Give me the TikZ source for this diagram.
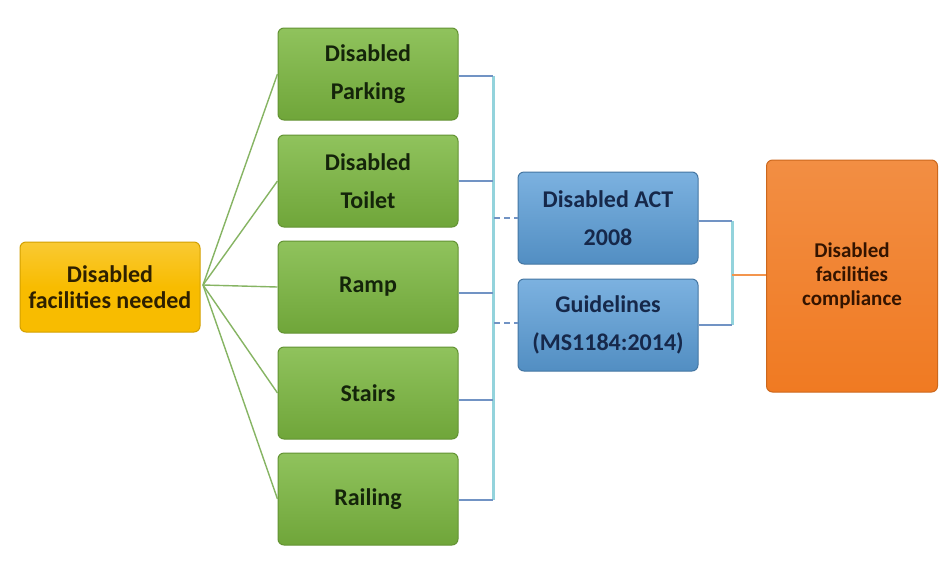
\documentclass[tikz,border=0pt]{standalone}
\usepackage{fontspec}
\setmainfont{Carlito}
\begin{document}
\begin{tikzpicture}[x=1pt,y=-1pt,
  box/.style={rounded corners=6pt, line width=1pt, align=center,
    font=\bfseries\fontsize{24}{26}\selectfont, inner sep=2pt},
  twoline/.style={font=\bfseries\fontsize{24}{38}\selectfont},
  goldbox/.style={box, draw=gold!85!black, top color=gold!80!white, bottom color=gold,
    middle color=gold, minimum width=180pt, minimum height=90pt, text=goldtext},
  greenbox/.style={box, draw=leaf!80!black, top color=leaf!85!white, bottom color=leaf!90!black,
    minimum width=180pt, minimum height=92pt, text=leaftext},
  bluebox/.style={box, draw=sky!75!black, top color=sky!80!white, bottom color=sky!90!black,
    minimum width=180pt, minimum height=92pt, text=skytext},
  orangebox/.style={box, draw=tang!85!black, top color=tang!85!white, bottom color=tang,
    minimum width=171pt, minimum height=232pt, text=tangtext},
  spoke/.style={draw=spokegreen, line width=1.4pt},
  tick/.style={draw=steel, line width=1.8pt},
  rail/.style={draw=aqua, line width=3pt},
  dashtick/.style={draw=steel, line width=1.8pt, dash pattern=on 6pt off 4pt},
  outlink/.style={draw=tang!80!white, line width=1.8pt}
]
\definecolor{gold}{HTML}{F8BC00}
\definecolor{goldtext}{HTML}{2E2000}
\definecolor{leaf}{HTML}{7CB840}
\definecolor{leaftext}{HTML}{14240A}
\definecolor{sky}{HTML}{5B9ED8}
\definecolor{skytext}{HTML}{16284A}
\definecolor{tang}{HTML}{F07A22}
\definecolor{tangtext}{HTML}{341400}
\definecolor{spokegreen}{HTML}{86B463}
\definecolor{steel}{HTML}{7193C4}
\definecolor{aqua}{HTML}{93D3DC}

\useasboundingbox[fill=white] (0,0) rectangle (941,563);

% source and facility boxes
\node[goldbox] (need) at (110,287) {Disabled\\facilities needed};
\node[greenbox, twoline] (park) at (368,74) {Disabled\\Parking};
\node[greenbox, twoline] (toil) at (368,181) {Disabled\\Toilet};
\node[greenbox] (ramp) at (368,287) {Ramp};
\node[greenbox] (stair) at (368,393) {Stairs};
\node[greenbox] (rail) at (368,499) {Railing};

% legislation boxes
\node[bluebox, twoline] (act) at (608,218) {Disabled ACT\\2008};
\node[bluebox, twoline] (guide) at (608,325) {Guidelines\\(MS1184:2014)};

% outcome box
\node[orangebox, font=\bfseries\fontsize{21}{24}\selectfont] (comp) at (852,276) {Disabled\\facilities\\compliance};

% fan of spokes from the source box
\coordinate (hub) at (203,285);
\foreach \t in {park,toil,ramp,stair,rail}
  \draw[spoke] (hub) -- (\t.west);

% left bracket collecting the facilities
\coordinate (lb1) at (493,76);
\coordinate (lb2) at (493,181);
\coordinate (lb3) at (493,293);
\coordinate (lb4) at (493,400);
\coordinate (lb5) at (493,500);
\draw[rail] (lb1) -- (lb5);
\draw[tick] (park.east |- lb1) -- (lb1);
\draw[tick] (toil.east |- lb2) -- (lb2);
\draw[tick] (ramp.east |- lb3) -- (lb3);
\draw[tick] (stair.east |- lb4) -- (lb4);
\draw[tick] (rail.east |- lb5) -- (lb5);
\coordinate (la) at (494,218);
\coordinate (lg) at (494,323);
\draw[dashtick] (la) -- (act.west);
\draw[dashtick] (lg) -- (guide.west |- lg);

% right bracket into the outcome
\coordinate (rb1) at (732,221);
\coordinate (rb2) at (732,325);
\coordinate (rbm) at (732,275);
\draw[rail] (rb1) -- (rb2);
\draw[tick] (act.east |- rb1) -- (rb1);
\draw[tick] (guide.east |- rb2) -- (rb2);
\draw[outlink] (rbm) -- (comp.west |- rbm);
\end{tikzpicture}
\end{document}
